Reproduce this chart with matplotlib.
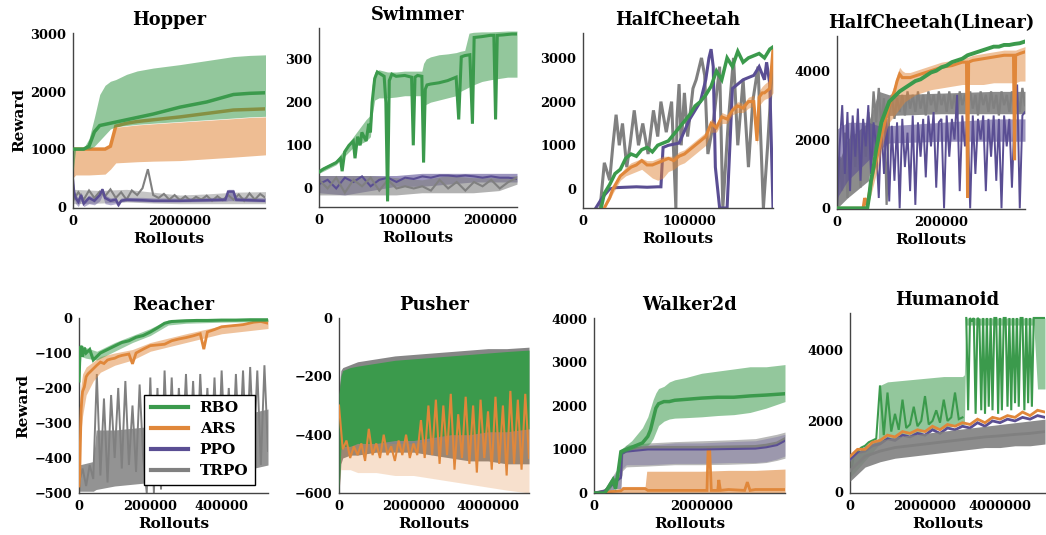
import numpy as np
import matplotlib
matplotlib.use('Agg')
import matplotlib.pyplot as plt
from matplotlib.lines import Line2D

plt.rcParams['font.family'] = ['DejaVu Serif']
plt.rcParams['font.weight'] = 'bold'
plt.rcParams['axes.labelweight'] = 'bold'
plt.rcParams['axes.titleweight'] = 'bold'
plt.rcParams['axes.unicode_minus'] = True

GREEN = '#3b9a4c'
ORANGE = '#e0873a'
PURPLE = '#5a4e93'
GRAY = '#808080'
M = 1e6
K = 1e3

# ---------------- Hopper (x in millions) ----------------
HOP_X = [0, 0.05, 0.1, 0.2, 0.3, 0.4, 0.5, 0.6, 0.7, 0.8, 1.0, 1.2, 1.5, 2.0, 2.5, 3.0, 3.3, 3.6]
HOP_RBO = [1000, 1000, 1000, 1000, 1050, 1300, 1410, 1430, 1450, 1470, 1510, 1550, 1610, 1730, 1820, 1950, 1970, 1980]
HOP_RBO_HI = [1000, 1000, 1000, 1020, 1180, 1550, 1950, 2110, 2180, 2210, 2300, 2360, 2410, 2470, 2540, 2610, 2630, 2640]
HOP_RBO_LO = [600, 1000, 1000, 1000, 1000, 1050, 1150, 1250, 1350, 1390, 1410, 1430, 1450, 1480, 1510, 1540, 1560, 1570]
HOP_ARS = [1000, 1000, 1000, 1000, 1000, 1000, 1000, 1000, 1050, 1400, 1450, 1480, 1510, 1560, 1620, 1680, 1690, 1700]
HOP_ARS_HI = [1000, 1000, 1000, 1000, 1000, 1000, 1000, 1000, 1050, 1380, 1400, 1420, 1440, 1470, 1500, 1530, 1550, 1560]
HOP_ARS_LO = [500, 550, 550, 550, 550, 555, 560, 565, 650, 760, 770, 780, 790, 800, 830, 860, 880, 900]
HOP_PPO_X = [0, 0.02, 0.05, 0.1, 0.15, 0.2, 0.3, 0.4, 0.5, 0.55, 0.6, 0.7, 0.8, 0.85, 0.9, 1.0, 1.3, 1.5, 2.0, 2.5, 2.85, 2.9, 3.0, 3.05, 3.3, 3.6]
HOP_PPO = [450, 250, 150, 80, 200, 50, 150, 100, 200, 300, 150, 100, 120, 30, 100, 120, 110, 100, 100, 110, 120, 260, 260, 120, 110, 100]
HOP_PPO_LO = [0, 150, 50, 0, 100, 0, 50, 30, 100, 200, 50, 30, 50, 0, 80, 90, 85, 80, 80, 85, 90, 100, 100, 90, 85, 80]
HOP_PPO_HI = [500, 300, 200, 150, 250, 120, 200, 150, 250, 330, 200, 150, 170, 80, 150, 160, 160, 150, 150, 160, 160, 300, 300, 170, 160, 150]
HOP_TRPO = [100, 250, 120, 280, 150, 260, 180, 300, 150, 250, 120, 280, 200, 320, 650, 200, 150, 220, 120, 200,
            110, 180, 100, 170, 120, 190, 100, 180, 110, 200, 120, 210, 100, 230, 120, 220, 150]
HOP_TRPO_BX = [0, 0.5, 1.0, 1.5, 2.0, 2.5, 3.0, 3.6]
HOP_TRPO_LO = [50, 60, 80, 60, 50, 50, 50, 50]
HOP_TRPO_HI = [300, 280, 300, 250, 200, 220, 250, 260]

# ---------------- Swimmer (x in thousands) ----------------
SW_X = [0, 5, 10, 15, 20, 25, 27, 30, 35, 40, 42, 45, 48, 50, 55, 58, 60, 62, 65, 68, 72, 76, 78, 80, 82, 85, 90,
        100, 108, 110, 112, 115, 120, 122, 124, 126, 130, 140, 150, 160, 163, 166, 170, 176, 179, 181, 190, 200,
        204, 206, 208, 215, 225, 231]
SW_RBO = [38, 45, 50, 55, 60, 70, 40, 85, 100, 110, 70, 120, 100, 130, 110, 150, 130, 200, 255, 270, 265, 260, 200,
          -30, 250, 265, 260, 262, 258, 100, 258, 262, 260, 60, 230, 240, 242, 245, 250, 258, 160, 305, 308, 310,
          150, 350, 352, 355, 355, 160, 355, 356, 358, 358]
SW_BX = [0, 20, 40, 55, 60, 62, 65, 70, 80, 90, 100, 110, 120, 122, 125, 130, 140, 150, 160, 165, 170, 175, 180,
         190, 200, 210, 220, 231]
SW_RBO_HI = [45, 65, 120, 160, 170, 240, 270, 275, 270, 270, 272, 272, 272, 290, 300, 305, 310, 312, 315, 318, 320,
             360, 362, 363, 363, 364, 365, 365]
SW_RBO_LO = [35, 55, 95, 110, 120, 170, 205, 210, 210, 212, 215, 215, 215, 190, 195, 200, 205, 210, 215, 225, 230,
             235, 240, 248, 252, 255, 258, 258]
SW_PPO = [10, 20, 0, 25, 15, 28, 5, 20, 25, 15, 25, 22, 28, 25, 30, 30, 28, 30, 28, 25, 28, 25, 25, 22]
SW_TRPO = [20, 0, 25, -10, 20, 5, 25, -5, 20, 0, 5, 0, 5, -5, 20, 0, 15, -5, 15, 5, 20, 0, 15, 25]
SW_NBX = [0, 30, 60, 90, 120, 150, 180, 210, 231]
SW_PPO_LO = [-10, -15, -5, 5, 5, 10, 15, 15, 15]
SW_PPO_HI = [30, 30, 30, 30, 35, 35, 35, 35, 35]
SW_TRPO_LO = [-15, -15, -15, -15, -10, -10, -10, -5, 10]
SW_TRPO_HI = [30, 30, 30, 25, 20, 30, 25, 25, 30]

# ---------------- HalfCheetah (x in thousands) ----------------
HC_GX = [17, 20, 25, 30, 35, 40, 45, 50, 55, 60, 65, 70, 75, 80, 85, 90, 95, 100, 105, 110, 115, 120, 125, 130,
         135, 140, 145, 150, 155, 160, 165, 170, 175, 178]
HC_RBO = [-435, -100, 100, 350, 450, 700, 800, 750, 900, 950, 850, 1000, 1050, 1100, 1250, 1400, 1550, 1700, 1900,
          2000, 2150, 2350, 2700, 2500, 3000, 2800, 3150, 2900, 3000, 3050, 3100, 3000, 3200, 3250]
HC_OX = [20, 25, 28, 35, 40, 45, 50, 55, 60, 65, 70, 75, 80, 85, 90, 95, 100, 105, 110, 115, 120, 125, 130, 135,
         140, 145, 150, 155, 160, 163, 165, 168, 170, 175, 178]
HC_ARS = [-435, -200, 0, 300, 400, 500, 550, 650, 550, 550, 600, 650, 700, 650, 750, 800, 900, 1000, 1100, 1200,
          1500, 1400, 1650, 1600, 1800, 1900, 1850, 2000, 2000, 1100, 2100, 2200, 2200, 2300, 3200]
HC_ARS_LO = [-435, -250, -100, 200, 300, 350, 400, 450, 350, 250, 200, 250, 400, 450, 550, 600, 700, 800, 900, 1000,
             1300, 1300, 1500, 1500, 1700, 1750, 1750, 1850, 1900, 1000, 1900, 2000, 2050, 2100, 2200]
HC_ARS_HI = [-435, -150, 50, 350, 500, 600, 650, 700, 650, 650, 700, 750, 750, 750, 850, 900, 1000, 1100, 1200,
             1300, 1600, 1500, 1750, 1700, 1900, 2000, 1950, 2100, 2150, 1200, 2250, 2350, 2400, 2500, 3300]
HC_PX = [12, 18, 25, 30, 40, 50, 60, 70, 73, 75, 80, 90, 100, 110, 115, 118, 120, 122, 124, 128, 135, 140, 150,
         160, 165, 170, 172, 175, 178]
HC_PPO = [-435, -200, 0, 30, 40, 50, 40, 50, 50, 950, 1000, 1050, 1600, 2000, 2500, 3000, 3200, 2800, 500, -435,
          -435, 2300, 2500, 2600, 2800, 2500, 2900, 2400, -435]
HC_TX = [16, 20, 25, 28, 31, 34, 37, 41, 44, 48, 52, 56, 61, 66, 70, 73, 78, 83, 87, 88, 90, 92, 95, 98, 103, 106,
         111, 114, 117, 122, 128, 131, 136, 141, 145, 150, 155, 159, 164, 169, 173, 178]
HC_TRPO = [-435, 600, 200, 1000, 1700, 1000, 1500, 500, 1000, 1800, 1000, 1500, 800, 1800, 1200, 2000, 1300, 2000,
           -435, 1600, 2400, 1000, 2200, 1200, 2300, 2500, 3000, 2600, 800, 1500, 2800, -435, 1500, 3000, 1000,
           2500, 500, 2000, 2800, -435, 1000, 3000]

# ---------------- HalfCheetah(Linear) (x in thousands) ----------------
HCL_GX = [0, 58, 62, 65, 70, 75, 80, 85, 90, 95, 100, 110, 120, 130, 140, 150, 160, 170, 180, 190, 200, 210, 220,
          230, 240, 250, 260, 270, 280, 290, 300, 310, 320, 330, 340, 350, 360]
HCL_RBO = [0, 0, 400, 800, 1200, 1700, 2100, 2500, 2700, 2900, 3100, 3250, 3400, 3500, 3600, 3700, 3750, 3850, 3950,
           4000, 4100, 4150, 4250, 4300, 4350, 4450, 4500, 4550, 4600, 4650, 4700, 4700, 4750, 4750, 4780, 4800, 4850]
HCL_OX = [0, 50, 53, 56, 60, 65, 70, 75, 80, 85, 90, 95, 100, 105, 110, 115, 120, 125, 130, 140, 150, 160, 170, 180,
          200, 220, 240, 248, 250, 252, 260, 280, 300, 320, 338, 340, 342, 350, 360]
HCL_ARS = [0, 0, 300, 100, 300, 700, 1100, 1400, 1700, 2100, 2400, 2700, 3000, 3200, 3400, 3700, 3900, 3800, 3800,
           3800, 3850, 3900, 3950, 4000, 4100, 4150, 4250, 4250, 300, 4250, 4300, 4350, 4400, 4450, 4450, 1400, 4450,
           4500, 4550]
HCL_ARS_LO = [0, 0, 0, 0, 100, 400, 700, 1000, 1300, 1700, 2000, 2300, 2500, 2600, 2700, 2800, 2900, 3000, 3100,
              3200, 3300, 3350, 3400, 3450, 3500, 3550, 3600, 3600, 3600, 3600, 3600, 3600, 3650, 3650, 3650, 3650,
              3650, 3700, 3700]
HCL_ARS_HI = [0, 0, 350, 200, 400, 900, 1300, 1600, 1900, 2300, 2600, 2900, 3200, 3400, 3600, 3900, 4100, 4000, 3950,
              3950, 4000, 4050, 4100, 4150, 4250, 4300, 4400, 4400, 4400, 4400, 4450, 4500, 4550, 4600, 4600, 4600,
              4600, 4650, 4700]
# read every 5k from 0 to 360k
HCL_PPO = [0, 1800, 3000, 1000, 2800, 500, 2700, 1500, 2900, 800, 2600, 1800, 3000, 1000, 2500, 1800, 300, 2500,
           1000, 2600, 200, 2400, 800, 2500, 0, 2600, 1200, 2200, 500, 2700, 100, 2500, 1500, 2600, 900, 2700, 1800,
           2800, 600, 2500, 2600, 0, 2700, 1500, 2600, 2000, 3300, 500, 2700, 1800, 2600, 0, 2700, 1000, 2600, 2000,
           2700, 500, 2600, 1500, 2700, 800, 2600, 0, 2700, 1800, 2600, 600, 2700, 3600, 0, 2700, 2800]
HCL_TRPO = [0, 1500, 500, 2200, 300, 1800, 2500, 1200, 2400, 600, 2500, 1500, 2800, 2000, 3400, 2500, 3500, 2400,
            3200, 100, 2800, 3300, 2600, 3200, 2800, 3300, 2700, 3400, 2900, 3300, 2800, 3400, 2900, 3300, 2700, 3400,
            3000, 3300, 2800, 3400, 3000, 3300, 2800, 3400, 2900, 3300, 2700, 3400, 3000, 3300, 2800, 3400, 2900,
            3300, 2700, 3400, 3000, 3300, 2800, 3400, 2900, 3300, 2700, 3400, 3000, 3300, 2800, 3400, 2900, 3300,
            2800, 3500, 3000]
HCL_BX = [0, 20, 60, 80, 100, 200, 300, 360]
HCL_PPO_LO = [300, 800, 1400, 1700, 1900, 1950, 1950, 1950]
HCL_PPO_HI = [2300, 2500, 2500, 2400, 2400, 2500, 2600, 2600]
HCL_TRPO_LO = [0, 300, 800, 2400, 2700, 2750, 2750, 2750]
HCL_TRPO_HI = [1200, 2000, 2500, 3400, 3300, 3350, 3400, 3400]

# ---------------- Reacher (x in thousands) ----------------
RE_GX = [0, 3, 6, 10, 15, 20, 30, 40, 50, 60, 70, 80, 100, 120, 140, 160, 180, 200, 220, 240, 260, 280, 300, 330,
         360, 400, 440, 480, 530]
RE_RBO = [-180, -90, -80, -110, -85, -100, -90, -120, -110, -100, -95, -90, -80, -70, -65, -55, -50, -40, -28, -15,
          -10, -9, -8, -7, -7, -6, -6, -5, -5]
RE_GBX = [0, 5, 20, 50, 100, 150, 200, 250, 300, 400, 530]
RE_RBO_LO = [-200, -110, -115, -120, -95, -70, -50, -20, -15, -12, -10]
RE_RBO_HI = [-80, -75, -85, -95, -70, -50, -30, -5, -3, -2, -2]
RE_OX = [0, 2, 4, 6, 8, 10, 15, 20, 25, 30, 40, 50, 60, 70, 80, 90, 100, 110, 120, 140, 150, 160, 180, 200, 220,
         240, 260, 280, 300, 320, 340, 350, 360, 380, 400, 430, 460, 490, 510, 530]
RE_ARS = [-480, -450, -350, -262, -230, -210, -197, -168, -160, -155, -145, -135, -126, -130, -120, -117, -115, -110,
          -107, -103, -131, -100, -89, -79, -77, -75, -65, -60, -56, -51, -45, -89, -40, -33, -25, -22, -19, -12,
          -10, -15]
RE_OBX = [0, 5, 10, 20, 40, 60, 100, 150, 200, 300, 400, 530]
RE_ARS_LO = [-500, -330, -280, -220, -180, -155, -135, -120, -95, -70, -45, -30]
RE_ARS_HI = [-300, -200, -160, -140, -125, -110, -100, -90, -70, -45, -22, -5]
# read every 10k from 0 to 530k
RE_TRPO = [-470, -430, -480, -420, -460, -160, -450, -230, -470, -220, -400, -200, -430, -180, -420, -250, -440,
           -190, -400, -500, -170, -500, -200, -490, -150, -420, -170, -420, -200, -380, -160, -400, -180, -420,
           -160, -380, -200, -400, -170, -420, -150, -380, -200, -400, -160, -380, -150, -400, -140, -380, -150,
           -420, -135, -380]
RE_TBX = [0, 40, 48, 100, 200, 300, 400, 530]
RE_TRPO_LO = [-495, -495, -490, -480, -470, -460, -450, -420]
RE_TRPO_HI = [-420, -410, -320, -320, -310, -300, -290, -260]

# ---------------- Pusher (x in millions) ----------------
PU_BX = [0, 0.05, 0.1, 0.3, 0.5, 1.0, 1.5, 2.0, 2.5, 3.0, 3.5, 4.0, 4.5, 5.1]
PU_TRPO_HI = [-250, -180, -170, -160, -150, -140, -130, -125, -120, -115, -110, -105, -105, -100]
PU_TRPO_LO = [-600, -500, -480, -470, -470, -460, -460, -460, -470, -480, -490, -490, -500, -500]
PU_RBO_HI = [-260, -200, -180, -170, -165, -155, -145, -140, -135, -130, -125, -120, -115, -110]
PU_RBO_LO = [-600, -450, -440, -440, -430, -430, -420, -420, -410, -400, -400, -390, -390, -380]
PU_ARS_LO = [-600, -520, -520, -520, -530, -530, -540, -540, -550, -560, -570, -580, -590, -600]
PU_ARS_HI = [-300, -440, -430, -430, -430, -430, -430, -430, -420, -400, -380, -360, -350, -340]
# read every 0.1M from 0 to 5.1M
PU_ARS = [-300, -450, -420, -480, -440, -470, -430, -490, -380, -470, -430, -480, -400, -470, -440, -490, -420,
          -470, -400, -480, -430, -470, -350, -480, -300, -470, -280, -500, -300, -470, -260, -520, -330, -480,
          -270, -500, -300, -530, -280, -480, -320, -520, -270, -500, -300, -540, -250, -500, -280, -520, -260, -480]

# ---------------- Walker2d (x in millions) ----------------
WK_GX = [0, 0.2, 0.3, 0.35, 0.4, 0.45, 0.5, 0.55, 0.6, 0.7, 0.8, 0.9, 1.0, 1.05, 1.1, 1.15, 1.2, 1.3, 1.4, 1.5,
         1.7, 2.0, 2.3, 2.6, 2.9, 3.2, 3.55]
WK_RBO = [0, 0, 200, 300, 100, 500, 950, 980, 1000, 1050, 1100, 1150, 1300, 1450, 1700, 1950, 2050, 2100, 2100,
          2130, 2150, 2180, 2200, 2200, 2230, 2250, 2280]
WK_RBO_HI = [0, 50, 250, 400, 300, 600, 1000, 1050, 1100, 1200, 1350, 1500, 1750, 1950, 2150, 2300, 2400, 2450,
             2550, 2600, 2650, 2750, 2800, 2850, 2900, 2900, 2950]
WK_RBO_LO = [0, 0, 100, 200, 50, 400, 900, 920, 950, 1000, 1050, 1080, 1100, 1150, 1250, 1400, 1550, 1650, 1700,
             1720, 1730, 1750, 1780, 1800, 1850, 1950, 2100]
WK_BX = [0, 0.2, 0.3, 0.4, 0.45, 0.5, 0.52, 0.6, 1.0, 1.5, 2.0, 2.5, 3.0, 3.2, 3.4, 3.55]
WK_TRPO = [0, 50, 150, 300, 350, 400, 900, 1000, 1050, 1050, 1050, 1060, 1070, 1100, 1150, 1250]
WK_TRPO_HI = [0, 100, 300, 500, 550, 600, 1000, 1100, 1150, 1180, 1200, 1220, 1250, 1300, 1350, 1400]
WK_TRPO_LO = [0, 0, 50, 100, 100, 100, 500, 600, 620, 650, 650, 660, 680, 700, 750, 800]
WK_PPO = [0, 50, 150, 250, 300, 350, 900, 950, 1000, 1000, 1000, 1010, 1020, 1050, 1100, 1200]
WK_PPO_HI = [0, 100, 300, 450, 500, 550, 950, 1050, 1100, 1150, 1150, 1180, 1200, 1250, 1300, 1350]
WK_PPO_LO = [0, 0, 50, 100, 100, 100, 550, 650, 650, 680, 680, 700, 700, 720, 780, 850]
WK_OX = [0, 0.5, 0.55, 0.95, 1.0, 1.5, 2.0, 2.1, 2.12, 2.15, 2.18, 2.2, 2.3, 2.32, 2.35, 2.5, 2.8, 2.85, 2.9, 3.0,
         3.55]
WK_ARS = [0, 50, 100, 100, 60, 60, 60, 60, 1000, 1000, 60, 60, 60, 300, 60, 80, 60, 250, 60, 80, 80]
WK_OBX = [0, 0.5, 0.52, 0.95, 0.98, 1.5, 2.0, 2.5, 3.0, 3.55]
WK_ARS_LO = [0, 0, 0, 0, 0, 0, 0, 0, 0, 0]
WK_ARS_HI = [0, 100, 150, 150, 500, 500, 500, 520, 520, 550]

# ---------------- Humanoid (x in millions) ----------------
# read every 0.2M from 0 to 5.2M
HU_ARS = [1000, 1200, 1200, 1400, 1450, 1600, 1550, 1700, 1650, 1750, 1700, 1850, 1750, 1900, 1850, 1950, 1900,
          2050, 1950, 2100, 2050, 2150, 2100, 2250, 2150, 2300, 2250]
HU_PPO = [900, 1100, 1150, 1300, 1350, 1500, 1450, 1600, 1550, 1650, 1600, 1750, 1650, 1800, 1750, 1850, 1800,
          1950, 1850, 2000, 1950, 2050, 2000, 2100, 2050, 2150, 2100]
# read every 0.4M from 0 to 5.2M
HU_TRPO = [600, 1000, 1150, 1250, 1300, 1350, 1400, 1450, 1500, 1550, 1580, 1620, 1650, 1700]
HU_TRPO_LO = [300, 700, 850, 950, 1000, 1050, 1100, 1150, 1200, 1250, 1250, 1300, 1300, 1350]
HU_TRPO_HI = [900, 1300, 1450, 1550, 1600, 1650, 1700, 1750, 1800, 1850, 1900, 1950, 2000, 2050]
HU_GBX = [0, 0.75, 0.8, 1.0, 1.5, 2.0, 2.5, 3.0, 3.05, 3.1, 3.5, 4.0, 4.5, 4.9, 5.0, 5.2]
HU_RBO_HI = [1000, 1500, 3000, 3100, 3150, 3200, 3250, 3250, 3300, 4900, 4900, 4900, 4900, 4900, 4900, 4900]
HU_RBO_LO = [400, 1300, 1400, 1500, 1600, 1700, 1800, 1900, 1900, 4700, 4700, 4700, 4700, 4700, 2900, 2900]
# read every 0.1M from 0 to 3.0M, then every 0.05M from 3.1M to 5.2M
HU_RBO_A = [400, 1000, 1150, 1250, 1300, 1400, 1450, 1500, 3000, 1600, 2800, 1700, 2200, 1750, 2600, 1800, 1900,
            2400, 1850, 2000, 2700, 1900, 2000, 2300, 1950, 2600, 2000, 2100, 2800, 2050, 2100]
HU_RBO_B = [4900, 2300, 4900, 4800, 4900, 2200, 4900, 4850, 2300, 4900, 2200, 4900, 2400, 4900, 2300, 4900, 4900,
            2200, 4900, 2300, 4900, 4900, 2400, 4900, 2300, 4900, 2500, 4900, 2400, 4900, 4900, 2300, 4900, 2500,
            4900, 2400, 4900, 4900, 4900, 4900, 4900, 4900, 4900]


def band(ax, x, lo, hi, c, a=0.55, z=1):
    ax.fill_between(x, lo, hi, color=c, alpha=a, lw=0, zorder=z)


def line(ax, x, y, c, lw=2.0, z=2):
    ax.plot(x, y, color=c, lw=lw, zorder=z, solid_joinstyle='miter')


def even(a, b, vals):
    return np.linspace(a, b, len(vals))


def setup(ax, title, xlim, ylim, xticks, yticks, ylabel=False):
    ax.set_xlim(*xlim)
    ax.set_ylim(*ylim)
    ax.set_xticks(xticks)
    ax.set_yticks(yticks)
    ax.ticklabel_format(style='plain', useOffset=False)
    ax.set_title(title, fontsize=12.8, pad=6)
    ax.set_xlabel('Rollouts', fontsize=11, labelpad=3)
    if ylabel:
        ax.set_ylabel('Reward', fontsize=11, labelpad=3)
    for s in ['top', 'right']:
        ax.spines[s].set_visible(False)
    for s in ['left', 'bottom']:
        ax.spines[s].set_color('#444444')
        ax.spines[s].set_linewidth(1.0)
    ax.tick_params(length=0, labelsize=9.3, pad=5)


fig = plt.figure(figsize=(10.46, 5.35), dpi=100)
W, H = 1046, 535


def axes_px(x0, y0, x1, y1):
    return fig.add_axes([x0 / W, 1 - y1 / H, (x1 - x0) / W, (y1 - y0) / H])


# Hopper
ax = axes_px(73, 33, 265, 208)
hx = np.array(HOP_X) * M
band(ax, np.array(HOP_TRPO_BX) * M, HOP_TRPO_LO, HOP_TRPO_HI, GRAY, 0.45)
line(ax, even(0, 3.6 * M, HOP_TRPO), HOP_TRPO, GRAY, 1.5)
band(ax, np.array(HOP_PPO_X) * M, HOP_PPO_LO, HOP_PPO_HI, PURPLE, 0.45)
line(ax, np.array(HOP_PPO_X) * M, HOP_PPO, PURPLE, 1.8)
band(ax, hx, HOP_ARS_LO, HOP_ARS_HI, ORANGE)
line(ax, hx, HOP_ARS, ORANGE, 2.5)
band(ax, hx, HOP_RBO_LO, HOP_RBO_HI, GREEN, 0.55, 3)
line(ax, hx, HOP_RBO, GREEN, 2.5, 4)
setup(ax, 'Hopper', (0, 3.59 * M), (-25, 3020), [0, 2 * M], [0, 1000, 2000, 3000], ylabel=True)

# Swimmer
ax = axes_px(319, 28, 517, 207)
band(ax, np.array(SW_NBX) * K, SW_PPO_LO, SW_PPO_HI, PURPLE, 0.6)
line(ax, even(0, 231 * K, SW_PPO), SW_PPO, PURPLE, 1.5)
band(ax, np.array(SW_NBX) * K, SW_TRPO_LO, SW_TRPO_HI, GRAY, 0.6)
line(ax, even(0, 231 * K, SW_TRPO), SW_TRPO, GRAY, 1.5)
band(ax, np.array(SW_BX) * K, SW_RBO_LO, SW_RBO_HI, GREEN, 0.55, 3)
line(ax, np.array(SW_X) * K, SW_RBO, GREEN, 2.2, 4)
setup(ax, 'Swimmer', (0, 231 * K), (-43, 372), [0, 100 * K, 200 * K], [0, 100, 200, 300])

# HalfCheetah
ax = axes_px(583, 33, 773, 208)
line(ax, np.array(HC_TX) * K, HC_TRPO, GRAY, 2.2)
line(ax, np.array(HC_PX) * K, HC_PPO, PURPLE, 2.2)
band(ax, np.array(HC_OX) * K, HC_ARS_LO, HC_ARS_HI, ORANGE, 0.5, 3)
line(ax, np.array(HC_OX) * K, HC_ARS, ORANGE, 2.2, 3)
line(ax, np.array(HC_GX) * K, HC_RBO, GREEN, 2.5, 4)
setup(ax, 'HalfCheetah', (0, 178 * K), (-435, 3570), [0, 100 * K], [0, 1000, 2000, 3000])

# HalfCheetah(Linear)
ax = axes_px(837, 36, 1025, 209)
band(ax, np.array(HCL_BX) * K, HCL_TRPO_LO, HCL_TRPO_HI, GRAY, 0.9)
line(ax, even(0, 360 * K, HCL_TRPO), HCL_TRPO, GRAY, 1.6)
band(ax, np.array(HCL_BX) * K, HCL_PPO_LO, HCL_PPO_HI, PURPLE, 0.6, 2)
line(ax, even(0, 360 * K, HCL_PPO), HCL_PPO, PURPLE, 1.4, 2)
band(ax, np.array(HCL_OX) * K, HCL_ARS_LO, HCL_ARS_HI, ORANGE, 0.5, 3)
line(ax, np.array(HCL_OX) * K, HCL_ARS, ORANGE, 2.2, 3)
line(ax, np.array(HCL_GX) * K, HCL_RBO, GREEN, 2.8, 4)
setup(ax, 'HalfCheetah(Linear)', (0, 360 * K), (-20, 5010), [0, 200 * K], [0, 2000, 4000])

# Reacher
ax = axes_px(79, 318, 268, 493)
band(ax, np.array(RE_TBX) * K, RE_TRPO_LO, RE_TRPO_HI, GRAY, 0.85)
line(ax, even(0, 530 * K, RE_TRPO), RE_TRPO, GRAY, 1.4)
band(ax, np.array(RE_OBX) * K, RE_ARS_LO, RE_ARS_HI, ORANGE, 0.5, 3)
line(ax, np.array(RE_OX) * K, RE_ARS, ORANGE, 2.0, 3)
band(ax, np.array(RE_GBX) * K, RE_RBO_LO, RE_RBO_HI, GREEN, 0.5, 4)
line(ax, np.array(RE_GX) * K, RE_RBO, GREEN, 2.2, 4)
setup(ax, 'Reacher', (0, 530 * K), (-500, 0), [0, 200 * K, 400 * K], [0, -100, -200, -300, -400, -500],
      ylabel=True)
handles = [Line2D([], [], color=c, lw=3) for c in [GREEN, ORANGE, PURPLE, GRAY]]
leg = ax.legend(handles, ['RBO', 'ARS', 'PPO', 'TRPO'], loc='lower left', bbox_to_anchor=(0.344, 0.046),
                borderaxespad=0, fancybox=False, framealpha=1, edgecolor='black', handlelength=2.4,
                prop={'family': 'DejaVu Serif', 'weight': 'bold', 'size': 11}, labelspacing=0.45,
                borderpad=0.45, handletextpad=0.8)
leg.get_frame().set_linewidth(1.0)
leg.set_zorder(10)

# Pusher
ax = axes_px(339, 318, 529, 493)
px = np.array(PU_BX) * M
band(ax, px, PU_TRPO_LO, PU_TRPO_HI, GRAY, 0.95)
band(ax, px, PU_ARS_LO, PU_ARS_HI, ORANGE, 0.25)
band(ax, px, PU_RBO_LO, PU_RBO_HI, GREEN, 1.0, 3)
line(ax, even(0, 5.1 * M, PU_ARS), PU_ARS, ORANGE, 1.5, 4)
setup(ax, 'Pusher', (0, 5.1 * M), (-600, 0), [0, 2 * M, 4 * M], [0, -200, -400, -600])

# Walker2d
ax = axes_px(594, 318, 785, 493)
band(ax, np.array(WK_OBX) * M, WK_ARS_LO, WK_ARS_HI, ORANGE, 0.6)
line(ax, np.array(WK_OX) * M, WK_ARS, ORANGE, 2.0)
band(ax, np.array(WK_BX) * M, WK_TRPO_LO, WK_TRPO_HI, GRAY, 0.55)
line(ax, np.array(WK_BX) * M, WK_TRPO, GRAY, 2.0)
band(ax, np.array(WK_BX) * M, WK_PPO_LO, WK_PPO_HI, PURPLE, 0.3)
line(ax, np.array(WK_BX) * M, WK_PPO, PURPLE, 1.5)
band(ax, np.array(WK_GX) * M, WK_RBO_LO, WK_RBO_HI, GREEN, 0.55, 3)
line(ax, np.array(WK_GX) * M, WK_RBO, GREEN, 2.5, 4)
setup(ax, 'Walker2d', (0, 3.55 * M), (0, 4020), [0, 2 * M], [0, 1000, 2000, 3000, 4000])

# Humanoid
ax = axes_px(850, 313, 1045, 493)
band(ax, np.array(HU_GBX) * M, HU_RBO_LO, HU_RBO_HI, GREEN, 0.55)
line(ax, even(0, 3.0 * M, HU_RBO_A), HU_RBO_A, GREEN, 1.5)
line(ax, even(3.1 * M, 5.2 * M, HU_RBO_B), HU_RBO_B, GREEN, 1.5)
line(ax, even(0, 5.2 * M, HU_PPO), HU_PPO, PURPLE, 2.0, 3)
band(ax, even(0, 5.2 * M, HU_TRPO), HU_TRPO_LO, HU_TRPO_HI, GRAY, 0.9, 3)
line(ax, even(0, 5.2 * M, HU_TRPO), HU_TRPO, GRAY, 2.0, 3)
line(ax, even(0, 5.2 * M, HU_ARS), HU_ARS, ORANGE, 2.0, 4)
setup(ax, 'Humanoid', (0, 5.2 * M), (-30, 5040), [0, 2 * M, 4 * M], [0, 2000, 4000])

fig.savefig('out.png', dpi=100)
